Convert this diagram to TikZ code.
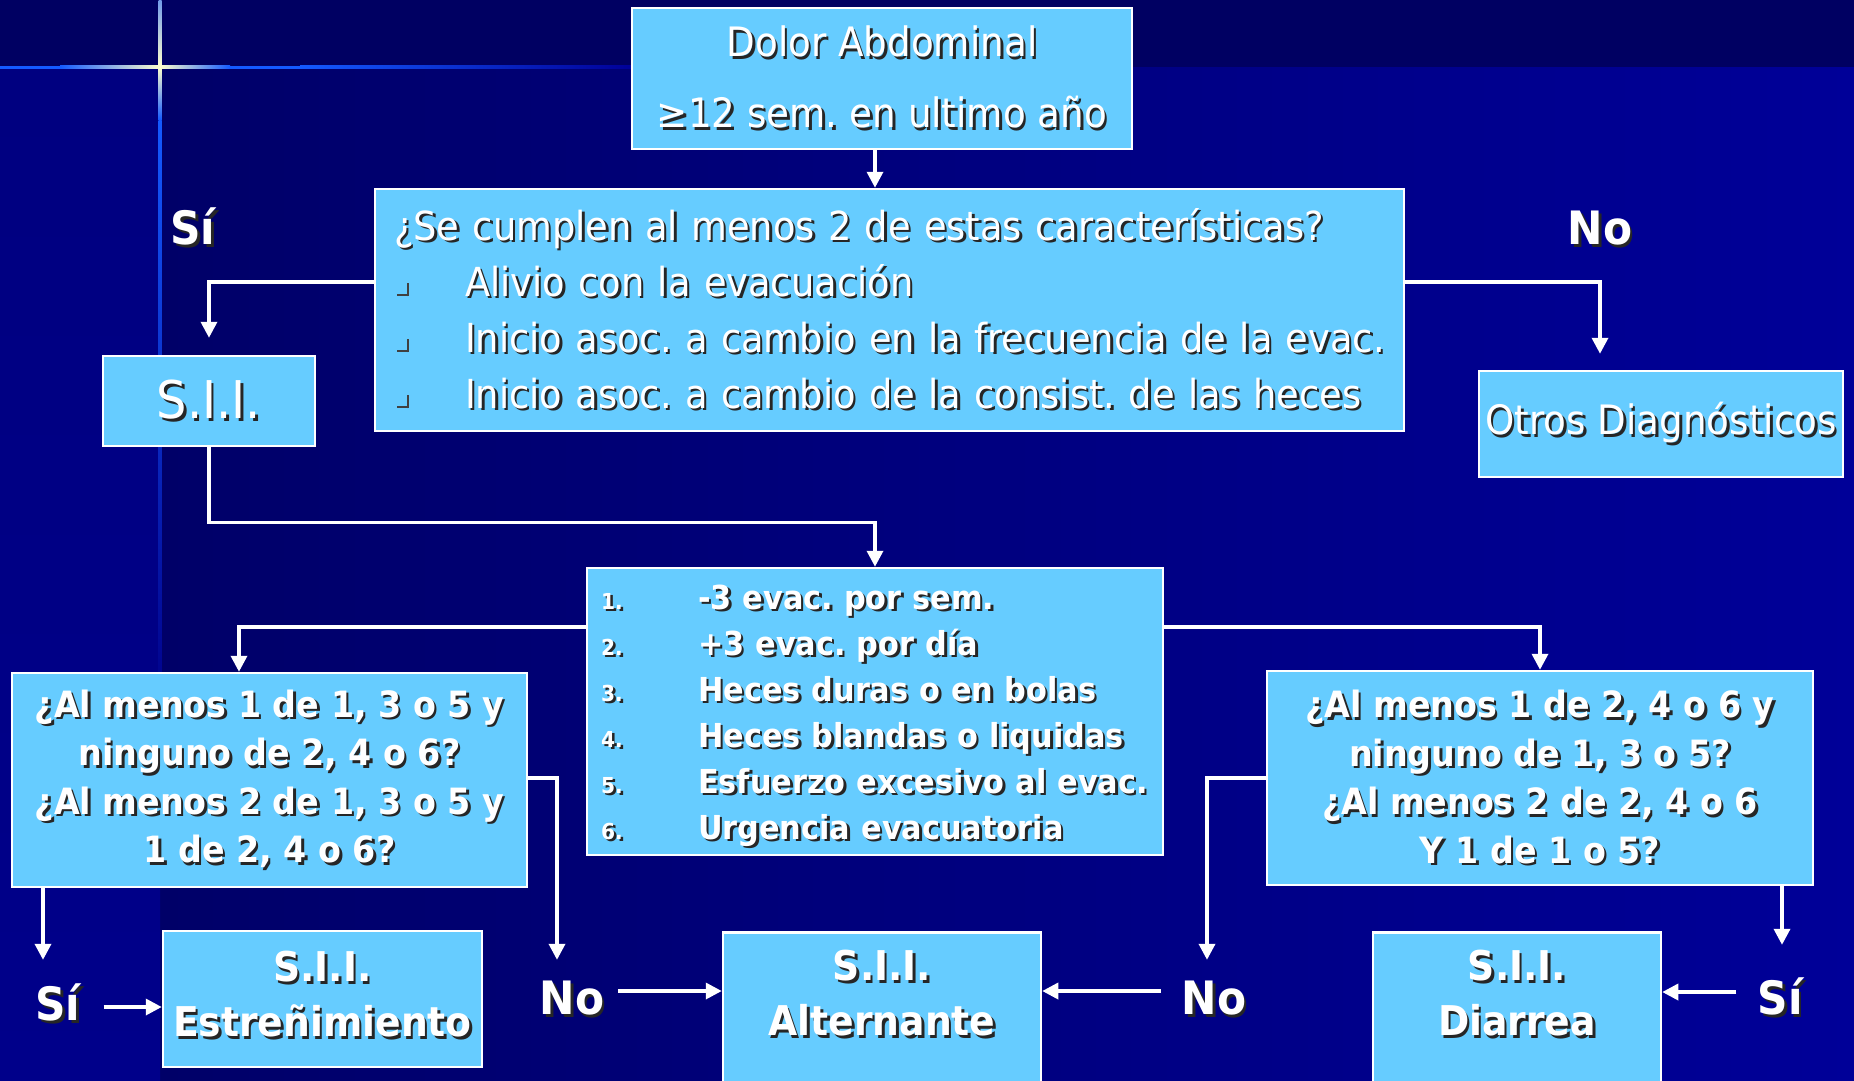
\documentclass[tikz,border=0pt]{standalone}
\usepackage{fontspec}
\setmainfont[FakeStretch=0.92]{DejaVu Sans}
\usetikzlibrary{positioning, arrows.meta}
\frenchspacing

\definecolor{boxblue}{RGB}{102,204,255}
\definecolor{bgtop}{RGB}{0,0,98}
\definecolor{bgleft}{RGB}{0,0,104}
\definecolor{bgright}{RGB}{0,0,152}
\definecolor{bgstrip}{RGB}{0,0,138}
\definecolor{glow}{RGB}{255,255,205}
\definecolor{ray}{RGB}{20,90,255}

\newcommand{\fs}[2]{\fontsize{#1}{#2}\selectfont}
\newcommand{\sh}[1]{\mbox{\rlap{\kern2.5pt\raisebox{-2.5pt}{\textcolor{black!85}{#1}}}#1}}
\newcommand{\bul}{\textcolor{black!75}{\rule{12pt}{2.5pt}\kern-2.5pt\rule{2.5pt}{13pt}}}
\newcommand{\itemno}[1]{\makebox[97pt][l]{\fs{22}{22}\sh{#1}}}

\tikzset{
    box/.style={draw=white, line width=2.5pt, fill=boxblue, text=white, inner sep=0pt, align=center},
    lbl/.style={text=white, font=\fs{46}{46}\bfseries, inner sep=0pt, text height=35pt, text depth=0pt},
    arr/.style={draw=white, line width=3.5pt, -{Triangle[length=16pt, width=16pt]}}
}

\begin{document}
\begin{tikzpicture}[x=1pt, y=-1pt]
    \clip (0,0) rectangle (1854,1080);
    % background
    \fill[bgtop] (0,0) rectangle (1854,67);
    \shade[left color=bgleft, right color=bgright] (160,67) rectangle (1854,1080);
    \shade[top color=bgstrip!70!bgleft, bottom color=bgstrip] (0,67) rectangle (160,1080);
    \shade[top color=ray!60!glow, bottom color=glow] (158.5,0) rectangle (161.5,67);
    \shade[top color=glow, bottom color=ray] (158.5,67) rectangle (161.5,120);
    \shade[top color=ray, bottom color=bgstrip] (158.5,120) rectangle (161.5,700);
    \shade[left color=ray, right color=glow] (60,65.5) rectangle (160,68.5);
    \fill[ray] (0,65.5) rectangle (60,68.5);
    \shade[left color=glow, right color=ray] (160,65.5) rectangle (230,68.5);
    \shade[left color=ray, right color=bgright] (300,65.5) rectangle (632,68.5);
    \fill[ray] (230,65.5) rectangle (300,68.5);

    \node[box, minimum width=500pt, minimum height=141pt, font=\fs{40.5}{71}] (top) at (882,78.5)
        {\sh{Dolor Abdominal}\\\sh{≥12 sem. en ultimo año}};
    \node[box, minimum width=1029pt, minimum height=242pt, text width=991pt, align=left, font=\fs{40}{56}] (crit) at (889.5,310)
        {\sh{¿Se cumplen al menos 2 de estas características?}\\
         \makebox[71pt][l]{\kern3pt\bul}\sh{Alivio con la evacuación}\\
         \makebox[71pt][l]{\kern3pt\bul}\sh{Inicio asoc. a cambio en la frecuencia de la evac.}\\
         \makebox[71pt][l]{\kern3pt\bul}\sh{Inicio asoc. a cambio de la consist. de las heces}};
    \node[box, minimum width=212pt, minimum height=90pt, font=\fs{52}{52}] (sii) at (209,401) {\sh{S.I.I.}};
    \node[box, minimum width=364pt, minimum height=106pt, font=\fs{40.5}{50}] (otros) at (1661,424) {\sh{Otros Diagnósticos}};
    \node[box, minimum width=576pt, minimum height=287pt, text width=548pt, align=left, font={\fs{33}{46}\bfseries}] (feat) at (875,711.5)
        {\rule{0pt}{35pt}\itemno{1.}\sh{-3 evac. por sem.}\\
         \itemno{2.}\sh{+3 evac. por día}\\
         \itemno{3.}\sh{Heces duras o en bolas}\\
         \itemno{4.}\sh{Heces blandas o liquidas}\\
         \itemno{5.}\sh{Esfuerzo excesivo al evac.}\\
         \itemno{6.}\sh{Urgencia evacuatoria}};
    \node[box, minimum width=515pt, minimum height=214pt, font={\fs{36.2}{48.5}\bfseries}] (leftq) at (269.5,780)
        {\sh{¿Al menos 1 de 1, 3 o 5 y}\\\sh{ninguno de 2, 4 o 6?}\\\sh{¿Al menos 2 de 1, 3 o 5 y}\\\sh{1 de 2, 4 o 6?}};
    \node[box, minimum width=546pt, minimum height=214pt, font={\fs{36.2}{48.5}\bfseries}] (rightq) at (1540,778)
        {\sh{¿Al menos 1 de 2, 4 o 6 y}\\\sh{ninguno de 1, 3 o 5?}\\\sh{¿Al menos 2 de 2, 4 o 6}\\\sh{Y 1 de 1 o 5?}};
    \node[box, minimum width=319pt, minimum height=136pt, font={\fs{41}{55}\bfseries}] (estr) at (322.5,999)
        {\sh{S.I.I.}\\\sh{Estreñimiento}\rule[-10pt]{0pt}{10pt}};
    \node[box, minimum width=318pt, inner ysep=18pt, text depth=150pt, anchor=north, font={\fs{41}{55}\bfseries}] (alt) at (882,931)
        {\sh{S.I.I.}\\\sh{Alternante}};
    \node[box, minimum width=288pt, inner ysep=18pt, text depth=150pt, anchor=north, font={\fs{41}{55}\bfseries}] (diar) at (1517,931)
        {\sh{S.I.I.}\\\sh{Diarrea}};

    \node[lbl] (si1) at (193,227) {\sh{Sí}};
    \node[lbl] (no1) at (1600,227) {\sh{No}};
    \node[lbl] (si2) at (58,1003) {\sh{Sí}};
    \node[lbl] (no2) at (572,997) {\sh{No}};
    \node[lbl] (no3) at (1214,997) {\sh{No}};
    \node[lbl] (si3) at (1780,997) {\sh{Sí}};

    \draw[arr] (top.south -| feat.north) -- (crit.north -| feat.north);
    \draw[arr] ([yshift=28pt]crit.west) -| ([yshift=17pt]sii.north);
    \draw[arr] ([yshift=28pt]crit.east) -| ([xshift=-61pt,yshift=16pt]otros.north);
    \draw[arr] (sii.south) -- ++(0,75) -| (feat.north);
    \draw[arr] ([yshift=84.5pt]feat.west) -| ([xshift=-30.5pt]leftq.north);
    \draw[arr] ([yshift=84.5pt]feat.east) -| (rightq.north);
    \draw[arr] ([yshift=2pt]leftq.east) -| ([xshift=-15pt,yshift=19.5pt]no2.north);
    \draw[arr] ([xshift=-226.5pt]leftq.south) -- ([xshift=-15pt,yshift=25.5pt]si2.north);
    \draw[arr] (rightq.west) -| ([xshift=-7pt,yshift=19.5pt]no3.north);
    \draw[arr] ([xshift=242pt]rightq.south) -- ([xshift=2pt,yshift=34.5pt]si3.north);
    \draw[arr, shorten <=23pt] ([yshift=-4pt]si2.east) -- ([yshift=-4pt]si2.east -| estr.west);
    \draw[arr, shorten <=14pt] ([yshift=6pt]no2.east) -- ([yshift=6pt]no2.east -| alt.west);
    \draw[arr, shorten <=21pt] ([yshift=6pt]no3.west) -- ([yshift=6pt]no3.west -| alt.east);
    \draw[arr, shorten <=21pt] ([yshift=5pt]si3.west) -- ([yshift=5pt]si3.west -| diar.east);
\end{tikzpicture}
\end{document}
